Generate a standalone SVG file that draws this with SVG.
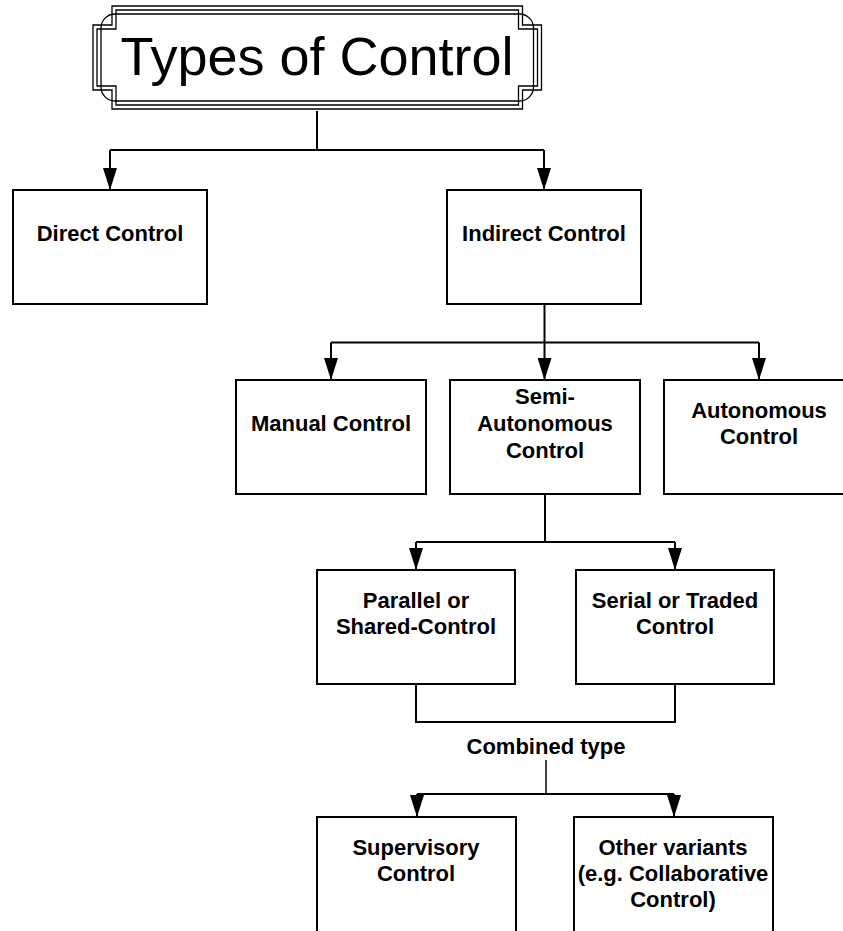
<svg xmlns="http://www.w3.org/2000/svg" width="843" height="931" viewBox="0 0 843 931">
  <style>
    .box { fill: #ffffff; stroke: #000000; stroke-width: 2; }
    .frame { fill: none; stroke: #000000; stroke-width: 1.3; }
    .wire { fill: none; stroke: #000000; stroke-width: 2; }
    .lbl { font-family: "Liberation Sans", Arial, sans-serif; font-weight: bold; font-size: 22px; text-anchor: middle; fill: #000000; }
    .title { font-family: "Liberation Sans", Arial, sans-serif; font-size: 54px; text-anchor: middle; fill: #000000; }
  </style>
  <defs>
    <marker id="arrow" viewBox="0 0 22 14" refX="22" refY="7" markerWidth="22" markerHeight="14" markerUnits="userSpaceOnUse" orient="auto">
      <path d="M0,0 L22,7 L0,14 Z" fill="#000000"/>
    </marker>
  </defs>

  <rect width="843" height="931" fill="#ffffff"/>

  <!-- Connectors -->
  <g id="connectors">
    <path class="wire" d="M317,111 V150"/>
    <path class="wire" d="M110,150 H544"/>
    <path class="wire" d="M110,150 V190" marker-end="url(#arrow)"/>
    <path class="wire" d="M544,150 V190" marker-end="url(#arrow)"/>

    <path class="wire" d="M544.5,304 V380" marker-end="url(#arrow)"/>
    <path class="wire" d="M331,342.5 H759"/>
    <path class="wire" d="M331,342.5 V380" marker-end="url(#arrow)"/>
    <path class="wire" d="M759,342.5 V380" marker-end="url(#arrow)"/>

    <path class="wire" d="M545,494 V542"/>
    <path class="wire" d="M416,542 H675"/>
    <path class="wire" d="M416,542 V570" marker-end="url(#arrow)"/>
    <path class="wire" d="M675,542 V570" marker-end="url(#arrow)"/>

    <path class="wire" d="M416,684 V722 H675 V684"/>
    <path class="wire" d="M546,760 V794" style="stroke-width:1.5"/>
    <path class="wire" d="M417,794 H674"/>
    <path class="wire" d="M417,794 V817" marker-end="url(#arrow)"/>
    <path class="wire" d="M674,794 V817" marker-end="url(#arrow)"/>
  </g>

  <!-- Title with decorative triple frame: two notched outlines and a rounded inner one -->
  <g id="title">
    <path class="frame" d="M112,6 H522.5 V25 H541.5 V90 H522.5 V109 H112 V90 H93 V25 H112 Z"/>
    <path class="frame" d="M116,10 H518.5 V29 H537.5 V86 H518.5 V105 H116 V86 H97 V29 H116 Z"/>
    <rect class="frame" x="101" y="14" width="432.5" height="87" rx="14" ry="14"/>
    <text class="title" x="317" y="75">Types of Control</text>
  </g>

  <g id="direct">
    <rect class="box" x="13" y="190" width="194" height="114"/>
    <text class="lbl" x="110" y="241">Direct Control</text>
  </g>

  <g id="indirect">
    <rect class="box" x="447" y="190" width="194" height="114"/>
    <text class="lbl" x="544" y="241">Indirect Control</text>
  </g>

  <g id="manual">
    <rect class="box" x="236" y="380" width="190" height="114"/>
    <text class="lbl" x="331" y="431">Manual Control</text>
  </g>

  <g id="semi">
    <rect class="box" x="450" y="380" width="190" height="114"/>
    <text class="lbl" x="545" y="404">Semi-</text>
    <text class="lbl" x="545" y="431">Autonomous</text>
    <text class="lbl" x="545" y="458">Control</text>
  </g>

  <g id="autonomous">
    <rect class="box" x="664" y="380" width="192" height="114"/>
    <text class="lbl" x="759" y="418">Autonomous</text>
    <text class="lbl" x="759" y="444">Control</text>
  </g>

  <g id="parallel">
    <rect class="box" x="317" y="570" width="198" height="114"/>
    <text class="lbl" x="416" y="608">Parallel or</text>
    <text class="lbl" x="416" y="634">Shared-Control</text>
  </g>

  <g id="serial">
    <rect class="box" x="576" y="570" width="198" height="114"/>
    <text class="lbl" x="675" y="608">Serial or Traded</text>
    <text class="lbl" x="675" y="634">Control</text>
  </g>

  <g id="combined">
    <text class="lbl" x="546" y="754">Combined type</text>
  </g>

  <g id="supervisory">
    <rect class="box" x="317" y="817" width="199" height="130"/>
    <text class="lbl" x="416" y="855">Supervisory</text>
    <text class="lbl" x="416" y="881">Control</text>
  </g>

  <g id="other">
    <rect class="box" x="574" y="817" width="199" height="130"/>
    <text class="lbl" x="673" y="855">Other variants</text>
    <text class="lbl" x="673" y="881">(e.g. Collaborative</text>
    <text class="lbl" x="673" y="907">Control)</text>
  </g>
</svg>
